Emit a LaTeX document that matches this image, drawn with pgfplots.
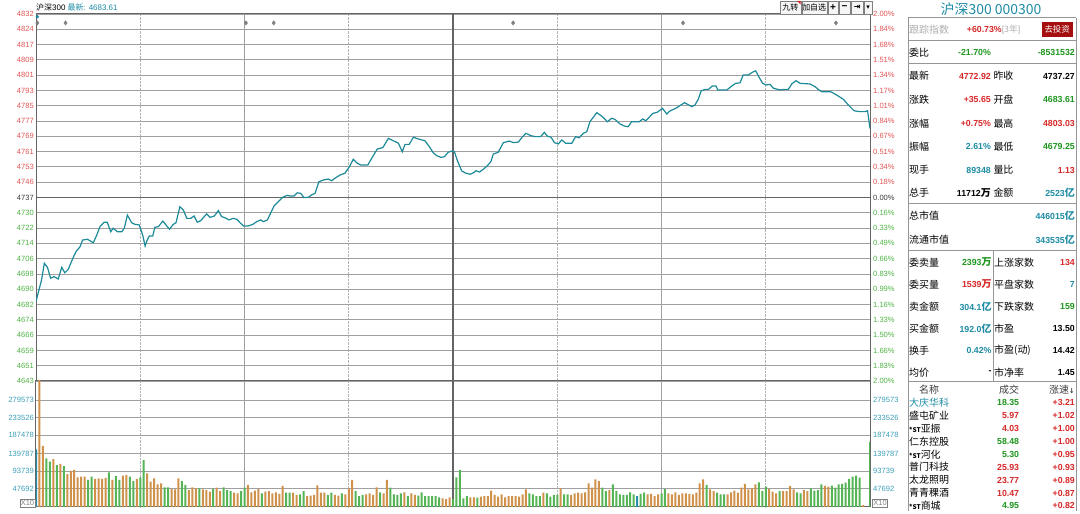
\documentclass[border=0pt]{standalone}
\usepackage{fontspec}
\setmainfont{Liberation Sans}
\newfontfamily\cjk{Noto Sans CJK SC}
\newfontfamily\dejavu{DejaVu Sans}
\usepackage{pgfplots}
\pgfplotsset{compat=1.18}
\usepackage{pgfplotstable}
\definecolor{pline}{RGB}{28,138,152}
\definecolor{tred}{RGB}{215,40,40}
\definecolor{tgreen}{RGB}{30,150,30}
\definecolor{tteal}{RGB}{30,140,165}
\definecolor{lred}{RGB}{225,85,85}
\definecolor{lgreen}{RGB}{80,180,70}
\definecolor{lteal}{RGB}{60,160,185}
\definecolor{darklab}{RGB}{60,60,60}
\definecolor{gridcol}{RGB}{160,160,160}
\definecolor{framecol}{RGB}{100,100,100}
\definecolor{vorange}{RGB}{208,145,75}
\definecolor{vgreen}{RGB}{85,180,85}
\definecolor{vteal}{RGB}{40,140,170}
\definecolor{btnred}{RGB}{165,15,15}
\definecolor{lgray}{RGB}{175,175,175}
\definecolor{panelline}{RGB}{150,150,150}

\newcommand{\plab}[3]{\node[anchor=west,inner sep=0pt,font={\cjk\fontsize{10}{12}\selectfont}] at (#1bp,#2bp) {#3};}
\newcommand{\pval}[4]{\node[anchor=east,inner sep=0pt,text=#3,font={\bfseries\fontsize{8.8}{10}\selectfont}] at (#1bp,#2bp) {#4};}
\newcommand{\cz}[1]{{\cjk\fontsize{10}{10}\selectfont #1}}
\newcommand{\st}{{\bfseries\fontsize{6.5}{7}\selectfont *ST}}

\pgfplotstableread{
m p
0 4683.6
1.6 4694.7
2.4 4703.3
3.3 4701.2
4.2 4695.6
5.2 4696.4
6.4 4695.2
7.4 4701.2
8.3 4698.4
9.3 4700.2
10.6 4705.9
11.5 4709.3
12.7 4711.9
13.4 4715.3
14.8 4715.7
16.5 4713.9
17.5 4717.9
18.4 4722.2
19.6 4724.5
20.5 4724.5
21.5 4719.6
22.2 4721.4
23.4 4719.6
24.7 4719.6
25.4 4721.4
26.3 4728.2
27.5 4724.3
28.5 4723.4
29.7 4723.1
30.7 4717.9
31.4 4712.2
32.0 4715.3
32.6 4717.4
33.6 4717.4
34.2 4721.9
35.2 4722.2
36.5 4725.1
37.4 4723.1
38.4 4720.9
39.5 4723.4
40.3 4724.3
41.4 4732.5
42.4 4730.8
43.4 4726.5
44.5 4726.5
45.5 4727.7
46.4 4724.5
47.4 4725.3
49.1 4728.8
50.1 4727.0
51.3 4727.7
52.5 4730.5
53.4 4727.4
54.4 4726.8
55.5 4725.7
56.8 4726.5
57.8 4726.0
58.7 4724.3
59.7 4722.6
61.1 4722.6
62.4 4723.4
63.5 4724.8
64.7 4725.7
65.4 4724.8
66.6 4725.7
67.5 4729.1
68.5 4732.9
69.7 4735.1
71.0 4737.4
72.3 4738.4
73.1 4738.0
74.2 4738.0
75.2 4739.7
76.2 4739.4
77.1 4737.2
78.4 4737.4
79.3 4738.6
80.3 4739.4
81.4 4745.4
82.7 4746.3
84.1 4746.8
85.1 4745.9
86.0 4747.2
87.5 4748.9
88.9 4749.8
90.2 4753.2
91.3 4757.0
92.5 4754.9
93.4 4754.1
95.5 4754.1
96.6 4757.5
98.2 4762.3
99.8 4763.0
101.4 4767.8
102.8 4766.6
104.3 4765.3
105.4 4760.9
106.2 4764.7
107.4 4764.7
108.6 4768.4
110.0 4767.5
111.9 4766.6
113.2 4763.5
114.3 4760.4
115.3 4758.9
116.5 4758.0
117.5 4758.3
118.6 4760.6
119.9 4761.4
120.4 4760.9
121.2 4756.6
122.5 4751.0
123.7 4749.8
124.9 4749.3
126.0 4750.1
126.6 4751.1
127.6 4750.4
128.7 4751.8
129.9 4753.7
130.9 4755.8
131.6 4759.7
133.0 4760.6
134.5 4765.6
136.2 4766.4
137.4 4765.6
138.8 4765.9
139.9 4768.4
141.0 4770.4
142.4 4769.2
143.6 4768.7
145.2 4768.7
146.3 4770.9
147.1 4769.0
148.2 4768.4
149.2 4765.6
150.3 4764.9
151.3 4767.0
152.4 4765.3
154.2 4765.3
155.3 4768.7
156.3 4768.1
157.5 4770.4
158.5 4771.2
159.4 4776.4
161.4 4781.1
163.2 4778.7
164.4 4776.4
165.7 4778.2
166.6 4777.6
168.1 4775.2
169.3 4774.2
170.4 4773.8
171.4 4776.4
173.6 4776.4
174.6 4777.8
175.5 4776.9
177.5 4780.7
178.8 4781.3
180.3 4783.3
181.5 4780.4
182.4 4781.9
184.4 4783.6
185.3 4784.7
186.6 4786.2
187.5 4785.4
188.7 4784.2
189.6 4785.0
190.6 4788.0
191.4 4792.3
192.5 4793.1
193.5 4793.1
194.6 4794.8
195.7 4794.8
196.2 4792.8
198.8 4792.8
200.2 4794.8
201.3 4796.2
202.6 4796.5
203.5 4800.5
205.0 4800.5
206.1 4801.9
207.1 4802.7
208.1 4799.3
209.1 4796.2
210.1 4795.4
211.2 4795.7
212.2 4793.7
214.1 4792.8
215.3 4793.1
216.5 4793.1
217.5 4795.9
218.7 4797.6
219.9 4796.2
222.7 4795.9
224.2 4794.5
225.1 4793.1
226.1 4791.9
228.7 4791.9
230.4 4790.2
232.3 4788.0
233.8 4785.0
235.4 4782.1
236.9 4781.6
238.6 4781.6
239.3 4782.1
240 4772.9
}\pricetab

\pgfplotstableread{
m v
1 340000
2 159400
5 125400
7 112400
9 86200
10 94100
11 96700
12 77500
13 79300
14 79300
17 73200
18 74900
19 73200
20 75800
22 70600
25 81900
26 83600
29 73200
32 88000
33 66200
34 74900
35 59200
36 61800
39 47000
40 46200
41 74900
44 44400
45 51400
46 48800
48 46200
49 44400
50 40100
52 50500
53 41800
57 37500
58 35700
61 57500
62 38300
63 42700
64 47000
66 40100
67 41800
68 35700
69 38300
70 34000
71 54900
74 37500
75 31400
78 28700
79 29600
80 31400
81 56600
82 37500
83 37500
86 31400
87 29600
89 33100
90 47900
91 70600
95 33100
96 35700
97 31400
98 51400
100 35700
101 70600
106 38300
108 35700
109 31400
117 22600
118 20900
119 25300
125 25300
126 25300
128 27000
129 28700
130 28700
131 42700
132 31400
133 27000
134 33100
135 25300
136 28700
137 28700
138 28700
139 27000
140 33100
141 46200
146 37500
151 48800
154 31400
155 35700
156 37500
157 35700
158 38300
159 61800
160 50500
161 72300
162 67900
165 44400
176 33100
177 34000
178 28700
179 33100
182 35700
183 33100
184 38300
185 31400
186 35700
187 35700
188 34000
189 33100
190 37500
191 61800
192 72300
194 46200
195 41800
199 33100
200 38300
201 42700
202 37500
203 50500
204 60100
205 46200
206 48800
207 59200
211 47000
212 40100
213 35700
215 41800
216 41800
217 54900
218 46200
221 44400
222 41800
227 54900
228 53100
238 5200
}\volup

\pgfplotstableread{
m v
3 127200
4 118500
6 109700
8 107100
15 70600
16 79300
21 90600
23 81000
24 70600
27 79300
28 67900
30 77500
31 122800
37 51400
38 51400
42 67900
43 57500
47 48800
51 47000
54 51400
55 44400
56 41800
59 41800
60 50500
65 35700
72 37500
73 37500
76 33100
77 41800
84 31400
85 37500
88 35700
92 41800
93 28700
94 31400
99 38300
102 50500
103 33100
104 31400
105 35700
107 28700
110 29600
111 38300
112 28700
113 28700
114 28700
115 28700
116 25300
120 20900
121 77500
122 96700
123 22600
124 28700
127 24400
142 35700
143 33100
144 28700
145 28700
147 35700
148 27000
149 31400
150 31400
152 33100
153 33100
163 50500
164 41800
166 59200
167 41800
168 33100
169 31400
170 31400
171 38300
172 33100
174 34000
175 37500
180 35700
181 47000
193 57500
196 37500
197 33100
198 33100
208 64500
209 41800
210 53100
214 41800
219 38300
220 35700
223 48800
224 42700
225 44400
226 59200
229 55700
230 50500
231 59200
232 60100
233 63600
234 73200
235 79300
236 81900
237 76600
240 170000
}\voldown

\pgfplotstableread{
m v
0 150700
173 28700
}\volflat

\pgfplotsset{
  chartx/.style={
    scale only axis, width=834bp, xmin=0, xmax=240,
    axis line style={draw=framecol, line width=1bp},
    xtick={60,180}, minor xtick={30,90,150,210},
    xticklabel=\empty,
    extra x ticks={120}, extra x tick labels={},
    extra x tick style={grid=major, major grid style={draw=framecol, line width=1.4bp}},
    xmajorgrids, xminorgrids,
    major grid style={draw=gridcol, line width=0.9bp},
    minor grid style={draw=gridcol!80, densely dotted, line width=0.8bp},
    ymajorgrids,
    tick style={draw=none}, major tick length=0pt, minor tick length=0pt,
    yticklabel style={font=\fontsize{7.6}{8}\selectfont, inner sep=0pt, anchor=east, xshift=-2bp},
  },
  rightlab/.style={
    scale only axis, width=834bp, xmin=0, xmax=240,
    hide x axis, axis y line*=right, axis line style={draw=none},
    tick style={draw=none}, major tick length=0pt,
    yticklabel style={font=\fontsize{7.6}{8}\selectfont, inner sep=0pt, anchor=west, xshift=3bp},
  },
}

\begin{document}
\begin{tikzpicture}
\fill[white] (0bp,0bp) rectangle (1080bp,511bp);

% ---------- price panel ----------
\begin{axis}[chartx,
  at={(36bp,130bp)}, anchor=south west, height=367bp,
  ymin=4642.52, ymax=4832.02,
  ytick={4642.52,4650.42,4658.31,4666.21,4674.10,4682.00,4689.90,4697.79,4705.69,4713.58,4721.48,4729.37,4745.17,4753.06,4760.96,4768.85,4776.75,4784.64,4792.54,4800.44,4808.33,4816.23,4824.12,4832.02},
  yticklabels={\textcolor{lgreen}{4643},\textcolor{lgreen}{4651},\textcolor{lgreen}{4659},\textcolor{lgreen}{4666},\textcolor{lgreen}{4674},\textcolor{lgreen}{4682},\textcolor{lgreen}{4690},\textcolor{lgreen}{4698},\textcolor{lgreen}{4706},\textcolor{lgreen}{4714},\textcolor{lgreen}{4722},\textcolor{lgreen}{4730},\textcolor{lred}{4746},\textcolor{lred}{4753},\textcolor{lred}{4761},\textcolor{lred}{4769},\textcolor{lred}{4777},\textcolor{lred}{4785},\textcolor{lred}{4793},\textcolor{lred}{4801},\textcolor{lred}{4809},\textcolor{lred}{4817},\textcolor{lred}{4824},\textcolor{lred}{4832}},
  extra y ticks={4737.27}, extra y tick labels={\textcolor{darklab}{4737}},
  extra y tick style={grid=major, major grid style={draw=framecol, line width=1.6bp}},
]
\addplot[only marks, mark=diamond*, mark size=2.2bp, color=gray] coordinates {(0.4,4827.4) (8.5,4827.4) (60.4,4827.4) (68.4,4827.4) (137.3,4827.4) (186.2,4827.4) (230.2,4827.4)};
\addplot[only marks, mark=*, mark size=1.4bp, color=tteal] coordinates {(0.4,4830.6)};
\addplot[pline, line width=1.2bp] table[x=m,y=p] {\pricetab};
\end{axis}

\begin{axis}[rightlab,
  at={(36bp,130bp)}, anchor=south west, height=367bp,
  ymin=4642.52, ymax=4832.02,
  ytick={4642.52,4650.42,4658.31,4666.21,4674.10,4682.00,4689.90,4697.79,4705.69,4713.58,4721.48,4729.37,4737.27,4745.17,4753.06,4760.96,4768.85,4776.75,4784.64,4792.54,4800.44,4808.33,4816.23,4824.12,4832.02},
  yticklabels={\textcolor{lgreen}{2.00\%},\textcolor{lgreen}{1.83\%},\textcolor{lgreen}{1.66\%},\textcolor{lgreen}{1.50\%},\textcolor{lgreen}{1.33\%},\textcolor{lgreen}{1.16\%},\textcolor{lgreen}{0.99\%},\textcolor{lgreen}{0.83\%},\textcolor{lgreen}{0.66\%},\textcolor{lgreen}{0.49\%},\textcolor{lgreen}{0.33\%},\textcolor{lgreen}{0.16\%},\textcolor{darklab}{0.00\%},\textcolor{lred}{0.18\%},\textcolor{lred}{0.34\%},\textcolor{lred}{0.51\%},\textcolor{lred}{0.67\%},\textcolor{lred}{0.84\%},\textcolor{lred}{1.01\%},\textcolor{lred}{1.17\%},\textcolor{lred}{1.34\%},\textcolor{lred}{1.51\%},\textcolor{lred}{1.68\%},\textcolor{lred}{1.84\%},\textcolor{lred}{2.00\%}},
]
\addplot[draw=none] coordinates {(0,4737.27)};
\end{axis}

% ---------- volume panel ----------
\begin{axis}[chartx,
  at={(36bp,4bp)}, anchor=south west, height=126bp,
  ymin=0, ymax=329240,
  ytick={47692,93739,139787,187478,233526,279573},
  yticklabels={\textcolor{lteal}{47692},\textcolor{lteal}{93739},\textcolor{lteal}{139787},\textcolor{lteal}{187478},\textcolor{lteal}{233526},\textcolor{lteal}{279573}},
  scaled y ticks=false,
]
\addplot[ybar, bar width=2bp, bar shift=0pt, fill=vorange, draw=none] table[x=m,y=v] {\volup};
\addplot[ybar, bar width=2bp, bar shift=0pt, fill=vgreen, draw=none] table[x=m,y=v] {\voldown};
\addplot[ybar, bar width=2bp, bar shift=0pt, fill=vteal, draw=none] table[x=m,y=v] {\volflat};
\end{axis}

\begin{axis}[rightlab,
  at={(36bp,4bp)}, anchor=south west, height=126bp,
  ymin=0, ymax=329240,
  ytick={47692,93739,139787,187478,233526,279573},
  yticklabels={\textcolor{lteal}{47692},\textcolor{lteal}{93739},\textcolor{lteal}{139787},\textcolor{lteal}{187478},\textcolor{lteal}{233526},\textcolor{lteal}{279573}},
  scaled y ticks=false,
]
\addplot[draw=none] coordinates {(0,0)};
\end{axis}

% X10 boxes
\node[draw=gray, inner sep=1pt, text=gray, font=\fontsize{7.5}{8}\selectfont, minimum width=13bp, minimum height=8bp] at (27.5bp,8bp) {X10};
\node[draw=gray, inner sep=1pt, text=gray, font=\fontsize{7.5}{8}\selectfont, minimum width=13bp, minimum height=8bp] at (880bp,8bp) {X10};

% header
\node[anchor=west, inner sep=0pt, font=\fontsize{8}{9}\selectfont] at (36bp,504bp) {{\cjk 沪深}300 \textcolor{tteal}{{\cjk 最新}: 4683.61}};

% buttons
\begin{scope}[every node/.style={inner sep=0pt}]
\draw[gray, fill=gray!8] (780bp,497bp) rectangle (800.7bp,510bp);
\node[font={\cjk\fontsize{8}{9}\selectfont}] at (790.3bp,503.5bp) {九转};
\fill[tred] (797bp,510bp) -- (800.7bp,510bp) -- (800.7bp,506.3bp) -- cycle;
\draw[gray, fill=gray!8] (801.7bp,497bp) rectangle (826.7bp,510bp);
\node[font={\cjk\fontsize{8}{9}\selectfont}] at (814.2bp,503.5bp) {加自选};
\draw[gray, fill=gray!8] (828bp,497bp) rectangle (838bp,510bp);
\node[font={\bfseries\fontsize{10}{10}\selectfont}] at (833bp,503.5bp) {+};
\draw[gray, fill=gray!8] (839bp,497bp) rectangle (850bp,510bp);
\node[font={\bfseries\fontsize{10}{10}\selectfont}] at (844.5bp,503.5bp) {−};
\draw[gray, fill=gray!8] (851.5bp,497bp) rectangle (863bp,510bp);
\node[font={\dejavu\bfseries\fontsize{8}{9}\selectfont}] at (857.2bp,503.5bp) {⇥};
\draw[gray, fill=gray!8] (864bp,497bp) rectangle (872.5bp,510bp);
\node[font={\dejavu\fontsize{7}{8}\selectfont}] at (868.2bp,503.5bp) {▾};
\end{scope}

% ---------- right panel ----------
\node[text=tteal, inner sep=0pt, font={\cjk\fontsize{14}{15}\selectfont}] at (991bp,501.7bp) {沪深300 000300};
\draw[panelline, line width=1bp] (908bp,493bp) -- (1076bp,493bp);
\draw[panelline, line width=1bp] (908bp,470.5bp) -- (1076bp,470.5bp);
\draw[panelline, line width=1bp] (908bp,447bp) -- (1076bp,447bp);
\draw[panelline, line width=1bp] (908bp,307bp) -- (1076bp,307bp);
\draw[panelline, line width=1bp] (908bp,260.3bp) -- (1076bp,260.3bp);
\draw[panelline, line width=1bp] (908bp,129bp) -- (1076bp,129bp);
\draw[panelline, line width=1bp] (908bp,493bp) -- (908bp,0bp);
\draw[panelline, line width=1bp] (1076bp,493bp) -- (1076bp,0bp);
\draw[panelline, line width=1bp] (993bp,260.3bp) -- (993bp,129bp);

\node[anchor=west,inner sep=0pt,text=lgray,font={\cjk\fontsize{10}{12}\selectfont}] at (909bp,481.7bp) {跟踪指数};
\node[anchor=west,inner sep=0pt,font={\bfseries\fontsize{8.8}{10}\selectfont}] at (966.7bp,481.7bp) {\textcolor{tred}{+60.73\%}\textcolor{lgray}{\mdseries[{\cjk 3年}]}};
\fill[btnred] (1041.7bp,473.7bp) rectangle (1072.7bp,489.3bp);
\node[text=white, inner sep=0pt, font={\cjk\fontsize{8.5}{9}\selectfont}] at (1057.2bp,481.5bp) {去投资};

\plab{909}{458.3}{委比}
\pval{991}{458.3}{tgreen}{-21.70\%}
\pval{1075}{458.3}{tgreen}{-8531532}

\plab{909}{435}{最新}   \pval{991}{435}{tred}{4772.92}   \plab{993.3}{435}{昨收}   \pval{1075}{435}{black}{4737.27}
\plab{909}{411.7}{涨跌} \pval{991}{411.7}{tred}{+35.65}  \plab{993.3}{411.7}{开盘} \pval{1075}{411.7}{tgreen}{4683.61}
\plab{909}{387.7}{涨幅} \pval{991}{387.7}{tred}{+0.75\%} \plab{993.3}{387.7}{最高} \pval{1075}{387.7}{tred}{4803.03}
\plab{909}{364.3}{振幅} \pval{991}{364.3}{tteal}{2.61\%}  \plab{993.3}{364.3}{最低} \pval{1075}{364.3}{tgreen}{4679.25}
\plab{909}{341}{现手}   \pval{991}{341}{tteal}{89348}    \plab{993.3}{341}{量比}   \pval{1075}{341}{tred}{1.13}
\plab{909}{318.3}{总手} \pval{991}{318.3}{black}{11712\cz{万}} \plab{993.3}{318.3}{金额} \pval{1075}{318.3}{tteal}{2523\cz{亿}}

\plab{909}{295}{总市值}   \pval{1075}{295}{tteal}{446015\cz{亿}}
\plab{909}{271.7}{流通市值} \pval{1075}{271.7}{tteal}{343535\cz{亿}}

\plab{909}{248.7}{委卖量} \pval{991.7}{248.7}{tgreen}{2393\cz{万}} \plab{994}{248.7}{上涨家数} \pval{1075}{248.7}{tred}{134}
\plab{909}{226.7}{委买量} \pval{991.7}{226.7}{tred}{1539\cz{万}}   \plab{994}{226.7}{平盘家数} \pval{1075}{226.7}{tteal}{7}
\plab{909}{204.7}{卖金额} \pval{991.7}{204.7}{tteal}{304.1\cz{亿}}  \plab{994}{204.7}{下跌家数} \pval{1075}{204.7}{tgreen}{159}
\plab{909}{182.7}{买金额} \pval{991.7}{182.7}{tteal}{192.0\cz{亿}}  \plab{994}{182.7}{市盈}     \pval{1075}{182.7}{black}{13.50}
\plab{909}{160.7}{换手}   \pval{991.7}{160.7}{tteal}{0.42\%}      \plab{994}{160.7}{市盈(动)} \pval{1075}{160.7}{black}{14.42}
\plab{909}{138.7}{均价}   \pval{991.7}{138.7}{black}{-}           \plab{994}{138.7}{市净率}   \pval{1075}{138.7}{black}{1.45}

% list header
\node[inner sep=0pt, text=darklab, font={\cjk\fontsize{10}{12}\selectfont}] at (929bp,121.7bp) {名称};
\node[inner sep=0pt, text=darklab, font={\cjk\fontsize{10}{12}\selectfont}] at (1009bp,121.7bp) {成交};
\node[anchor=east, inner sep=0pt, text=darklab, font={\cjk\fontsize{10}{12}\selectfont}] at (1075bp,121.7bp) {涨速{\dejavu\bfseries\fontsize{7}{8}\selectfont ↓}};

% list rows
\node[anchor=west,inner sep=0pt,text=tteal,font={\cjk\fontsize{10}{12}\selectfont}] at (909bp,108.3bp) {大庆华科};
\pval{1019.3}{108.3}{tgreen}{18.35} \pval{1075}{108.3}{tred}{+3.21}
\plab{909}{95.4}{盛屯矿业} \pval{1019.3}{95.4}{tred}{5.97} \pval{1075}{95.4}{tred}{+1.02}
\plab{909}{82.5}{\st 亚振} \pval{1019.3}{82.5}{tred}{4.03} \pval{1075}{82.5}{tred}{+1.00}
\plab{909}{69.6}{仁东控股} \pval{1019.3}{69.6}{tgreen}{58.48} \pval{1075}{69.6}{tred}{+1.00}
\plab{909}{56.7}{\st 河化} \pval{1019.3}{56.7}{tgreen}{5.30} \pval{1075}{56.7}{tred}{+0.95}
\plab{909}{43.8}{普门科技} \pval{1019.3}{43.8}{tred}{25.93} \pval{1075}{43.8}{tred}{+0.93}
\plab{909}{30.9}{太龙照明} \pval{1019.3}{30.9}{tred}{23.77} \pval{1075}{30.9}{tred}{+0.89}
\plab{909}{18.0}{青青稞酒} \pval{1019.3}{18.0}{tred}{10.47} \pval{1075}{18.0}{tred}{+0.87}
\plab{909}{5.1}{\st 商城} \pval{1019.3}{5.1}{tgreen}{4.95} \pval{1075}{5.1}{tred}{+0.82}
\end{tikzpicture}
\end{document}
